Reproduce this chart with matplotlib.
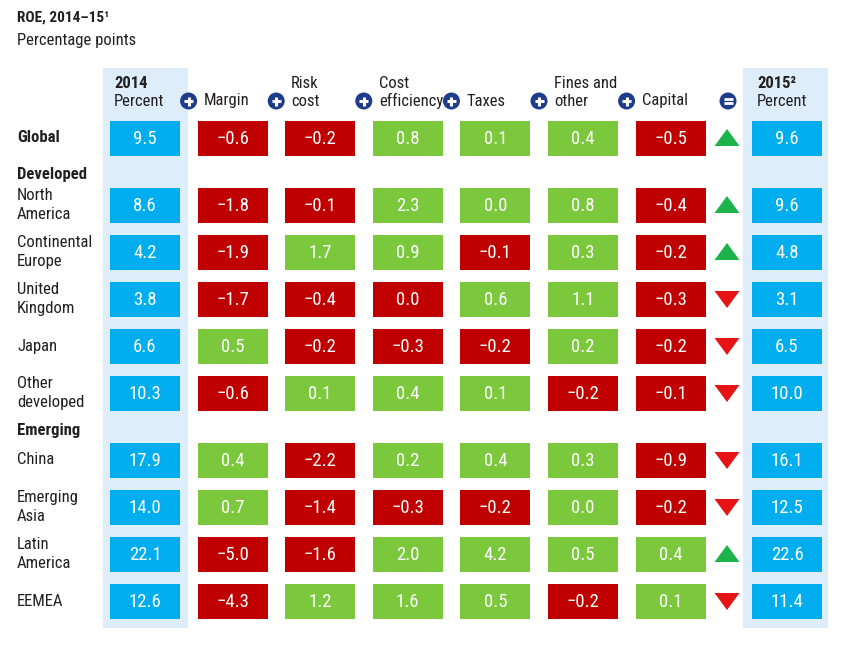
import matplotlib.pyplot as plt
from matplotlib.patches import Rectangle, Circle, Polygon
import numpy as np

plt.rcParams['font.family'] = ['Roboto Condensed', 'DejaVu Sans']
plt.rcParams['font.stretch'] = 'condensed'

# data
regions = ['Global', 'North\nAmerica', 'Continental\nEurope', 'United\nKingdom', 'Japan',
           'Other\ndeveloped', 'China', 'Emerging\nAsia', 'Latin\nAmerica', 'EEMEA']
group_before = {1: 'Developed', 6: 'Emerging'}
roe_2014 = [9.5, 8.6, 4.2, 3.8, 6.6, 10.3, 17.9, 14.0, 22.1, 12.6]
margin = [-0.6, -1.8, -1.9, -1.7, 0.5, -0.6, 0.4, 0.7, -5.0, -4.3]
risk_cost = [-0.2, -0.1, 1.7, -0.4, -0.2, 0.1, -2.2, -1.4, -1.6, 1.2]
# UK cost efficiency is shown as a red 0.0, so keep it as -0.0
cost_eff = [0.8, 2.3, 0.9, -0.0, -0.3, 0.4, 0.2, -0.3, 2.0, 1.6]
taxes = [0.1, 0.0, -0.1, 0.6, -0.2, 0.1, 0.4, -0.2, 4.2, 0.5]
fines = [0.4, 0.8, 0.3, 1.1, 0.2, -0.2, 0.3, 0.0, 0.5, -0.2]
capital = [-0.5, -0.4, -0.2, -0.3, -0.2, -0.1, -0.9, -0.2, 0.4, 0.1]
roe_2015 = [9.6, 9.6, 4.8, 3.1, 6.5, 10.0, 16.1, 12.5, 22.6, 11.4]

drivers = [margin, risk_cost, cost_eff, taxes, fines, capital]
driver_labels = [['Margin'], ['Risk', 'cost'], ['Cost', 'efficiency'], ['Taxes'],
                 ['Fines and', 'other'], ['Capital']]

BLUE = '#00aeef'
RED = '#c00000'
GREEN = '#7cc83c'
PANEL = '#ddeefa'
NAVY = '#1e3c8c'
TXT = '#231f20'

fig = plt.figure(figsize=(8.6, 6.45), dpi=100)
ax = fig.add_axes([0, 0, 1, 1])
ax.set_xlim(0, 860)
ax.set_ylim(645, 0)
ax.axis('off')

cw, ch = 70, 35
step = 87.6
x_first = 145
x_tri = 727
x_2015 = 787
fs = 12

# row positions
ys = []
y = 138
for i in range(len(regions)):
    if i > 0:
        y += 47
    if i in group_before:
        y += 20
    ys.append(y)

def fmt(v):
    return ('\u2212' if v < 0 else '') + f'{abs(v):.1f}'

def cell(xc, yc, color, txt):
    ax.add_patch(Rectangle((xc - cw / 2, yc - ch / 2), cw, ch, color=color, lw=0))
    ax.text(xc, yc + 1, txt, color='white', fontsize=13.5, ha='center', va='center')

# light panels behind 2014 and 2015 columns
for xc in (x_first + 0.5, x_2015 - 1.5):
    ax.add_patch(Rectangle((xc - 42.5, 68), 85, 560, color=PANEL, lw=0, zorder=0))

# title
ax.text(17, 18, 'ROE, 2014\u201315\u00b9', fontsize=11, fontweight='bold', color=TXT, va='center')
ax.text(17, 41, 'Percentage points', fontsize=12, color=TXT, va='center')

# headers
hy_top, hy_bot = 83, 101
ax.text(x_first - 31, hy_top, '2014', fontsize=fs, fontweight='bold', color=TXT, va='center')
ax.text(x_first - 31, hy_bot, 'Percent', fontsize=fs, color=TXT, va='center')
ax.text(x_2015 - 30, hy_top, '2015\u00b2', fontsize=fs, fontweight='bold', color=TXT, va='center')
ax.text(x_2015 - 30, hy_bot, 'Percent', fontsize=fs, color=TXT, va='center')

def icon(xc, yc, plus=True):
    ax.add_patch(Circle((xc, yc), 8.5, color=NAVY, lw=0))
    if plus:
        ax.plot([xc - 4.5, xc + 4.5], [yc, yc], color='white', lw=2.2, solid_capstyle='butt')
        ax.plot([xc, xc], [yc - 4.5, yc + 4.5], color='white', lw=2.2, solid_capstyle='butt')
    else:
        for dy in (-2, 2):
            ax.plot([xc - 4.5, xc + 4.5], [yc + dy] * 2, color='white', lw=2, solid_capstyle='butt')

for j, lines in enumerate(driver_labels):
    left = x_first + step * (j + 1) - cw / 2
    ix = left - 9
    icon(ix, hy_bot)
    for k, line in enumerate(lines):
        yy = hy_bot - 18 * (len(lines) - 1 - k)
        ax.text(ix + 15, yy, line, fontsize=fs, color=TXT, va='center')
icon(x_tri + 1, hy_bot, plus=False)

# rows
for i, name in enumerate(regions):
    yc = ys[i]
    if i in group_before:
        ax.text(17, yc - 30, group_before[i], fontsize=fs, fontweight='bold', color=TXT, va='center')
    ax.text(17, yc, name, fontsize=fs, color=TXT, va='center', linespacing=1.3,
            fontweight='bold' if name == 'Global' else 'normal')
    cell(x_first, yc, BLUE, fmt(roe_2014[i]))
    for j, vals in enumerate(drivers):
        v = vals[i]
        cell(x_first + step * (j + 1), yc, RED if np.signbit(v) else GREEN, fmt(v))
    cell(x_2015, yc, BLUE, fmt(roe_2015[i]))
    if roe_2015[i] > roe_2014[i]:
        tri = [(x_tri - 12.5, yc + 8), (x_tri + 12.5, yc + 8), (x_tri, yc - 9)]
        col = '#1db34b'
    else:
        tri = [(x_tri - 12.5, yc - 8), (x_tri + 12.5, yc - 8), (x_tri, yc + 9)]
        col = '#e61414'
    ax.add_patch(Polygon(tri, closed=True, color=col, lw=0))

fig.savefig('out.png', dpi=100)
